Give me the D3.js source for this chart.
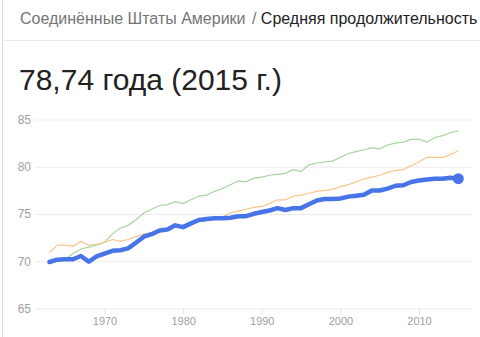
<!DOCTYPE html>
<html>
<head>
<meta charset="utf-8">
<script src="https://cdn.jsdelivr.net/npm/d3@7"></script>
<style>
  body { margin: 0; background: #fff; }
  svg { display: block; font-family: "Liberation Sans", Arial, sans-serif; }
</style>
</head>
<body>
<svg></svg>
<script>
const width = 480;
const height = 337;

// years 1963..2015
const years = d3.range(1963, 2016);

// США (main series, thick blue)
const usa = [69.92, 70.17, 70.21, 70.21, 70.56, 69.95, 70.51, 70.81, 71.11, 71.16,
    71.36, 71.96, 72.60, 72.86, 73.26, 73.36, 73.80, 73.61, 74.01, 74.36,
    74.46, 74.56, 74.56, 74.61, 74.77, 74.77, 75.02, 75.21, 75.37, 75.62,
    75.42, 75.62, 75.62, 76.03, 76.43, 76.58, 76.58, 76.64, 76.84, 76.94,
    77.04, 77.49, 77.49, 77.69, 77.99, 78.04, 78.39, 78.54, 78.64, 78.74,
    78.74, 78.84, 78.74];

// comparison series (green)
const greenSeries = [69.9, 70.3, 70.2, 70.8, 71.3, 71.5, 71.7, 72.0, 72.9, 73.5,
    73.8, 74.4, 75.1, 75.5, 75.9, 76.0, 76.3, 76.1, 76.5, 76.9,
    77.0, 77.4, 77.7, 78.1, 78.5, 78.4, 78.8, 78.9, 79.1, 79.2,
    79.3, 79.7, 79.5, 80.2, 80.4, 80.5, 80.6, 81.0, 81.4, 81.6,
    81.8, 82.0, 81.9, 82.3, 82.5, 82.6, 82.9, 82.9, 82.6, 83.1,
    83.3, 83.6, 83.8];

// comparison series (orange)
const orangeSeries = [70.9, 71.7, 71.7, 71.6, 72.1, 71.7, 71.8, 72.0, 72.3, 72.1,
    72.3, 72.6, 72.9, 73.0, 73.2, 73.3, 73.6, 73.6, 73.9, 74.2,
    74.3, 74.6, 74.7, 75.1, 75.3, 75.5, 75.7, 75.8, 76.1, 76.5,
    76.5, 76.9, 77.0, 77.2, 77.4, 77.5, 77.6, 77.9, 78.1, 78.4,
    78.7, 78.9, 79.1, 79.4, 79.6, 79.7, 80.1, 80.5, 81.0, 81.0,
    81.0, 81.3, 81.7];

const yTicks = [65, 70, 75, 80, 85];
const xTicks = [1970, 1980, 1990, 2000, 2010];

const crumbCountry = "Соединённые Штаты Америки";
const crumbIndicator = "Средняя продолжительность";
const headline = "78,74 года (2015 г.)";

const svg = d3.select("svg")
    .attr("width", width)
    .attr("height", height);

// frame lines
svg.append("line")
    .attr("x1", 2.5).attr("x2", 2.5).attr("y1", 0).attr("y2", height)
    .attr("stroke", "#dcdcdc");
svg.append("line")
    .attr("x1", 3).attr("x2", width).attr("y1", 40.5).attr("y2", 40.5)
    .attr("stroke", "#ebebeb");

// breadcrumb
const crumb = svg.append("text")
    .attr("x", 20).attr("y", 24)
    .attr("font-size", 16);
crumb.append("tspan").attr("fill", "#757575").text(crumbCountry);
crumb.append("tspan").attr("fill", "#757575").attr("dx", 2).text(" / ");
crumb.append("tspan").attr("fill", "#222").text(crumbIndicator);

svg.append("text")
    .attr("x", 19).attr("y", 89.5)
    .attr("font-size", 30)
    .attr("fill", "#222")
    .text(headline);

const x = d3.scaleLinear().domain([1970, 2010]).range([104.5, 419]);
const y = d3.scaleLinear().domain([65, 85]).range([308.5, 119.5]);

const plotLeft = 35, plotRight = 472;

// y grid + labels
const yAxis = svg.append("g")
    .attr("transform", `translate(${plotLeft},0)`)
    .call(d3.axisLeft(y).tickValues(yTicks).tickSize(-(plotRight - plotLeft)).tickPadding(4));
yAxis.select(".domain").remove();
yAxis.selectAll(".tick line").attr("stroke", "#ebebeb");
yAxis.selectAll(".tick text")
    .attr("fill", "#a0a0a0")
    .attr("font-size", 12)
    .attr("font-family", "Liberation Sans, Arial, sans-serif");

// x ticks
const xAxis = svg.append("g")
    .attr("transform", `translate(0,${y(65)})`)
    .call(d3.axisBottom(x).tickValues(xTicks).tickFormat(d3.format("d")).tickSize(6).tickPadding(3));
xAxis.select(".domain").remove();
xAxis.selectAll(".tick line").attr("stroke", "#e0e0e0");
xAxis.selectAll(".tick text")
    .attr("fill", "#a0a0a0")
    .attr("font-size", 11)
    .attr("font-family", "Liberation Sans, Arial, sans-serif");

const line = d3.line()
    .x((d, i) => x(years[i]))
    .y(d => y(d));

svg.append("path")
    .datum(greenSeries)
    .attr("fill", "none")
    .attr("stroke", "#a8d4a0")
    .attr("stroke-width", 1.2)
    .attr("d", line);

svg.append("path")
    .datum(orangeSeries)
    .attr("fill", "none")
    .attr("stroke", "#f8c68a")
    .attr("stroke-width", 1.2)
    .attr("d", line);

svg.append("path")
    .datum(usa)
    .attr("fill", "none")
    .attr("stroke", "#4774e6")
    .attr("stroke-width", 4.5)
    .attr("stroke-linejoin", "round")
    .attr("stroke-linecap", "round")
    .attr("d", line);

const last = usa.length - 1;
svg.append("circle")
    .attr("cx", x(years[last]))
    .attr("cy", y(usa[last]))
    .attr("r", 5.5)
    .attr("fill", "#4774e6");
</script>
</body>
</html>
